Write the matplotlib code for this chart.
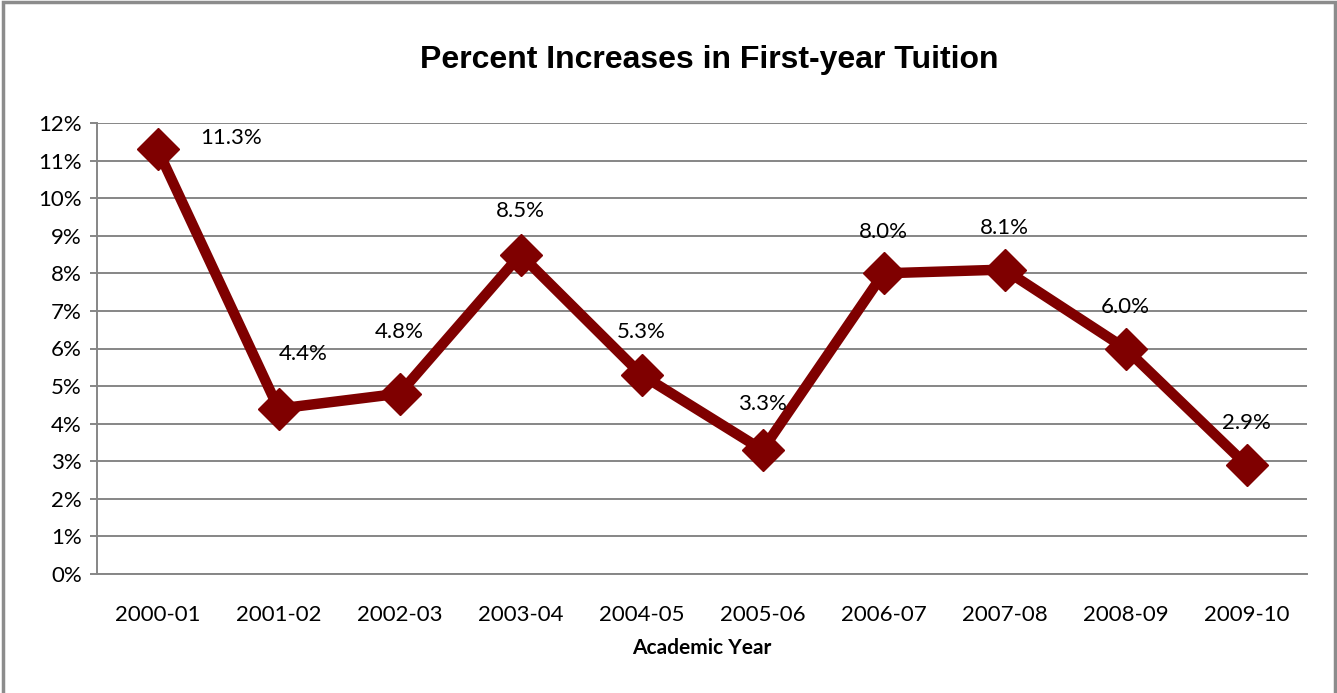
import matplotlib.pyplot as plt
from matplotlib.patches import Rectangle
from matplotlib.ticker import FuncFormatter, MultipleLocator

# Annual percent increase in first-year tuition
years = ['2000-01', '2001-02', '2002-03', '2003-04', '2004-05',
         '2005-06', '2006-07', '2007-08', '2008-09', '2009-10']
increase = [11.3, 4.4, 4.8, 8.5, 5.3, 3.3, 8.0, 8.1, 6.0, 2.9]

# where each value label sits relative to its marker (points)
label_offsets = [(53, 8), (18, 39), (0, 44), (0, 31), (0, 31),
                 (0, 33), (0, 30), (0, 30), (0, 30), (0, 30)]

tick_font = 'Lato'
grid_grey = '#868686'
line_red = '#7F0000'

fig = plt.figure(figsize=(13.37, 6.93), dpi=100)
ax = fig.add_axes([97 / 1337, 119 / 693, 1210 / 1337, 451 / 693])

x = list(range(len(years)))
ax.plot(x, increase, color=line_red, linewidth=7.5, marker='D',
        markersize=21, solid_joinstyle='miter', zorder=3)

for xi, v, (dx, dy) in zip(x, increase, label_offsets):
    ax.annotate(f'{v:.1f}%', xy=(xi, v), xytext=(dx, dy),
                textcoords='offset points', ha='center', va='center',
                fontsize=16, family=tick_font, color='black', zorder=4)

ax.set_xlim(-0.5, len(years) - 0.5)
ax.set_ylim(0, 12)
ax.yaxis.set_major_locator(MultipleLocator(1))
ax.yaxis.set_major_formatter(FuncFormatter(lambda v, p: f'{v:.0f}%'))
ax.set_xticks(x)
ax.set_xticklabels(years)

ax.grid(axis='y', color=grid_grey, linewidth=1.4)
ax.set_axisbelow(True)
for side in ['top', 'right']:
    ax.spines[side].set_visible(False)
for side in ['left', 'bottom']:
    ax.spines[side].set_color(grid_grey)
    ax.spines[side].set_linewidth(1.4)

ax.tick_params(axis='y', length=5, width=1.4, color=grid_grey, pad=6,
               labelsize=16)
ax.tick_params(axis='x', length=0, pad=22, labelsize=16)
for lbl in ax.get_xticklabels() + ax.get_yticklabels():
    lbl.set_family(tick_font)

ax.set_xlabel('Academic Year', fontsize=15, family=tick_font,
              fontweight='bold', labelpad=10)
fig.text(709 / 1337, 1 - 60 / 693, 'Percent Increases in First-year Tuition',
         ha='center', va='center', fontsize=23,
         family='Liberation Sans', fontweight='bold')

# grey frame around the whole chart
fig.patches.append(Rectangle((2.5 / 1337, -0.05), 1332 / 1337, 1.05 - 2 / 693,
                             transform=fig.transFigure, fill=False,
                             edgecolor='#8c8c8c', linewidth=2.5))

fig.savefig('out.png', dpi=100)
